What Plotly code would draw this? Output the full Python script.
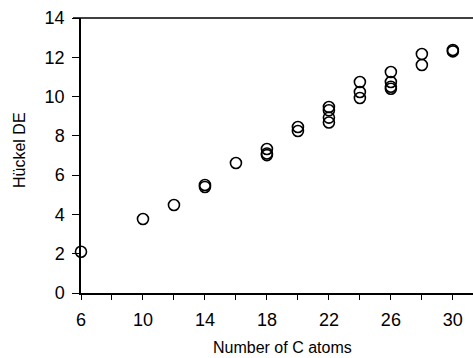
import plotly.graph_objects as go

# Number of C atoms and Hückel delocalization energies
n_carbon = [6, 10, 12, 14, 14, 16, 18, 18, 18, 20, 20,
            22, 22, 22, 22, 24, 24, 24, 26, 26, 26, 26, 28, 28, 30, 30]
huckel_de = [2.1, 3.77, 4.48, 5.4, 5.5, 6.62, 7.33, 7.1, 7.02, 8.45, 8.25,
             9.47, 9.3, 8.93, 8.68, 10.74, 10.23, 9.93, 11.25, 10.74, 10.5, 10.4,
             12.17, 11.61, 12.37, 12.3]

x_ticks = list(range(6, 31, 2))
x_labels = [str(v) if (v - 6) % 4 == 0 else "" for v in x_ticks]
y_ticks = list(range(0, 15, 2))

fig = go.Figure()
fig.add_trace(go.Scatter(
    x=n_carbon, y=huckel_de, mode="markers", cliponaxis=False,
    marker=dict(symbol="circle-open", size=11, color="black",
                line=dict(color="black", width=1.6)),
    showlegend=False,
))

font = dict(family="Liberation Sans, Arial, sans-serif", color="black")
fig.update_layout(
    width=473, height=358,
    margin=dict(l=81, r=0, t=18, b=65),
    paper_bgcolor="white", plot_bgcolor="white",
    font=dict(**font, size=18),
    xaxis=dict(range=[6, 31.3], tickvals=x_ticks, ticktext=x_labels,
               ticks="outside", ticklen=5, tickwidth=1.2, tickcolor="black",
               showline=True, linecolor="black", linewidth=1.5,
               showgrid=False, zeroline=False, mirror=False,
               ticklabelstandoff=5, tickfont=dict(size=18)),
    yaxis=dict(range=[0, 14], tickvals=y_ticks,
               ticks="outside", ticklen=7, tickwidth=1.2, tickcolor="black",
               showline=True, linecolor="black", linewidth=1.5,
               showgrid=False, zeroline=False, mirror=False,
               ticklabelstandoff=4, tickfont=dict(size=18)),
    shapes=[dict(type="line", xref="paper", yref="paper", x0=-8 / 392, x1=1, y0=1, y1=1,
                 line=dict(color="black", width=1.5))],
    annotations=[
        dict(text="Number of C atoms", xref="paper", yref="paper",
             x=(282 - 81) / 392, y=-(347 - 293) / 275, xanchor="center", yanchor="middle",
             showarrow=False, font=dict(**font, size=16)),
        dict(text="Hückel DE", xref="paper", yref="paper",
             x=(19 - 81) / 392, y=(293 - 150) / 275, xanchor="center", yanchor="middle",
             textangle=-90, showarrow=False, font=dict(**font, size=16)),
    ],
)

fig.write_html("out.html")
